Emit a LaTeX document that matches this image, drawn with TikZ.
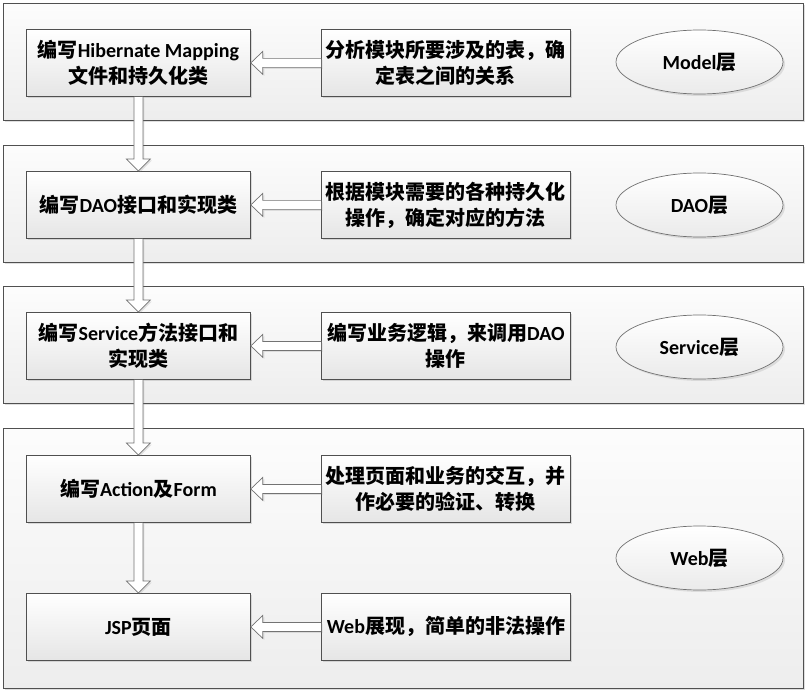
\documentclass[tikz,border=0pt]{standalone}
\usepackage{fontspec}
\setmainfont{Carlito}[BoldFont={Carlito Bold}]
\newfontfamily\cjk{Noto Sans CJK SC Bold}
\usetikzlibrary{shadows,calc,shapes.geometric}
\newcommand\zh[1]{{\cjk #1}}
\definecolor{edgegray}{HTML}{505050}
\definecolor{ellgray}{HTML}{707070}
\tikzset{
  layer/.style={draw=edgegray, line width=0.8pt, top color=black!1, bottom color=black!7,
    minimum width=800pt, anchor=north west, inner sep=0pt,
    drop shadow={shadow xshift=2pt, shadow yshift=-2pt, opacity=0.25}},
  stepbox/.style={draw=edgegray, line width=0.8pt, top color=white, bottom color=black!10,
    anchor=north west, minimum height=67pt, align=center, inner sep=0pt,
    font=\bfseries\fontsize{20}{26}\selectfont,
    drop shadow={shadow xshift=2pt, shadow yshift=-2pt, opacity=0.25}},
  leftbox/.style={stepbox, minimum width=224pt},
  rightbox/.style={stepbox, minimum width=249pt},
  layername/.style={ellipse, draw=ellgray, line width=0.7pt, top color=white, bottom color=black!8,
    minimum width=167pt, minimum height=64pt, inner sep=0pt,
    font=\bfseries\fontsize{20}{24}\selectfont,
    drop shadow={shadow xshift=2pt, shadow yshift=-2pt, opacity=0.2}},
  hollow/.style={draw=black!55, line width=0.7pt, fill=white,
    drop shadow={shadow xshift=1.5pt, shadow yshift=-1.5pt, opacity=0.2}},
}
% horizontal hollow arrow from #1 (right box) to #2 (left box)
\newcommand\harrowto[2]{%
  \draw[hollow] ($(#1.west)+(0,-4.5)$) -- ($(#2.east)+(12,-4.5)$) -- ($(#2.east)+(12,-11.5)$)
    -- (#2.east) -- ($(#2.east)+(12,11.5)$) -- ($(#2.east)+(12,4.5)$) -- ($(#1.west)+(0,4.5)$);}
% vertical hollow arrow from #1 (upper box) to #2 (lower box), y axis points down
\newcommand\varrowto[2]{%
  \draw[hollow] ($(#1.south)+(-4.5,0)$) -- ($(#2.north)+(-4.5,-12)$) -- ($(#2.north)+(-12,-12)$)
    -- (#2.north) -- ($(#2.north)+(12,-12)$) -- ($(#2.north)+(4.5,-12)$) -- ($(#1.south)+(4.5,0)$);}
\begin{document}
\begin{tikzpicture}[x=1pt, y=-1pt]
\useasboundingbox[fill=white] (0,0) rectangle (810,692);
% layers
\node[layer, minimum height=117pt] (band1) at (3,3) {};
\node[layer, minimum height=117pt] (band2) at (3,145) {};
\node[layer, minimum height=117pt] (band3) at (3,286) {};
\node[layer, minimum height=260pt] (band4) at (3,428) {};
% layer names
\node[layername] (model) at (699.5,62) {Model\zh{层}};
\node[layername] (dao) at (699.5,205) {DAO\zh{层}};
\node[layername] (service) at (699.5,347) {Service\zh{层}};
\node[layername] (web) at (699.5,558) {Web\zh{层}};
% left boxes
\node[leftbox] (l1) at (26,29) {\zh{编写}Hibernate Mapping\\\zh{文件和持久化类}};
\node[leftbox] (l2) at (26,171) {\zh{编写}DAO\zh{接口和实现类}};
\node[leftbox] (l3) at (26,312) {\zh{编写}Service\zh{方法接口和}\\\zh{实现类}};
\node[leftbox] (l4) at (26,455) {\zh{编写}Action\zh{及}Form};
\node[leftbox] (l5) at (26,593) {JSP\zh{页面}};
% right boxes
\node[rightbox] (r1) at (321,29) {\zh{分析模块所要涉及的表，确}\\\zh{定表之间的关系}};
\node[rightbox] (r2) at (321,171) {\zh{根据模块需要的各种持久化}\\\zh{操作，确定对应的方法}};
\node[rightbox] (r3) at (321,312) {\zh{编写业务逻辑，来调用}DAO\\\zh{操作}};
\node[rightbox] (r4) at (321,455) {\zh{处理页面和业务的交互，并}\\\zh{作必要的验证、转换}};
\node[rightbox] (r5) at (321,593) {Web\zh{展现，简单的非法操作}};
% arrows
\harrowto{r1}{l1}
\harrowto{r2}{l2}
\harrowto{r3}{l3}
\harrowto{r4}{l4}
\harrowto{r5}{l5}
\varrowto{l1}{l2}
\varrowto{l2}{l3}
\varrowto{l3}{l4}
\varrowto{l4}{l5}
\end{tikzpicture}
\end{document}
